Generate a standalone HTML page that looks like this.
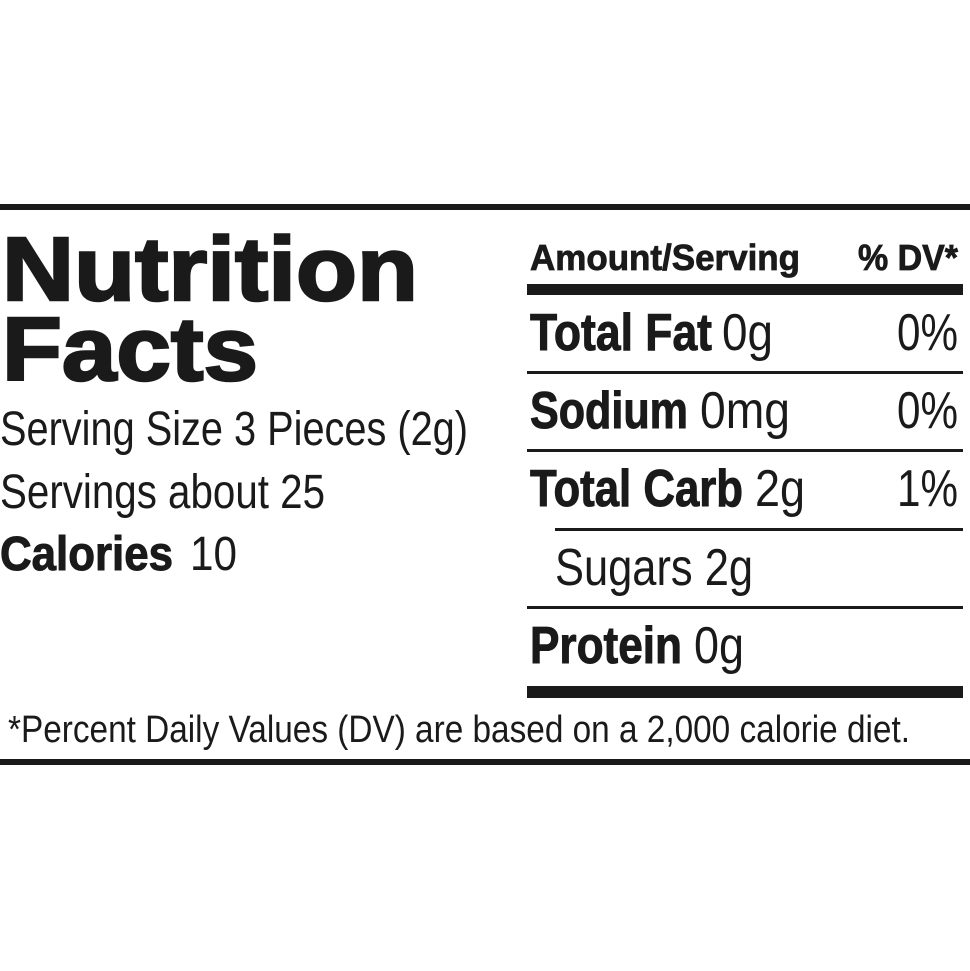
<!DOCTYPE html>
<html><head><style>html,body{margin:0;padding:0;background:#fff;}svg{display:block}</style></head>
<body>
<svg width="970" height="971" viewBox="0 0 970 971" xmlns="http://www.w3.org/2000/svg" font-family="Liberation Sans, Arial, sans-serif" fill="#1a1a1a">
<rect x="0" y="204" width="970" height="6" fill="#1a1a1a"/>
<rect x="0" y="759" width="970" height="6" fill="#1a1a1a"/>
<text x="2" y="300" font-size="90" font-weight="bold" stroke="#1a1a1a" stroke-width="2.5" textLength="416" lengthAdjust="spacingAndGlyphs">Nutrition</text>
<text x="2" y="380" font-size="90" font-weight="bold" stroke="#1a1a1a" stroke-width="2.5" textLength="256" lengthAdjust="spacingAndGlyphs">Facts</text>
<text x="0" y="445" font-size="48" textLength="468" lengthAdjust="spacingAndGlyphs">Serving Size 3 Pieces (2g)</text>
<text x="0" y="508" font-size="48" textLength="325" lengthAdjust="spacingAndGlyphs">Servings about 25</text>
<text x="0" y="570" font-size="48" font-weight="bold" stroke="#1a1a1a" stroke-width="1" textLength="173" lengthAdjust="spacingAndGlyphs">Calories</text>
<text x="190" y="570" font-size="48" textLength="47" lengthAdjust="spacingAndGlyphs">10</text>

<text x="530" y="270" font-size="36" font-weight="bold" stroke="#1a1a1a" stroke-width="0.8" textLength="270" lengthAdjust="spacingAndGlyphs">Amount/Serving</text>
<text x="858" y="270" font-size="36" font-weight="bold" stroke="#1a1a1a" stroke-width="0.8" textLength="100" lengthAdjust="spacingAndGlyphs">% DV*</text>
<rect x="527" y="284" width="436" height="11"/>

<text x="530" y="350" font-size="52" font-weight="bold" stroke="#1a1a1a" stroke-width="1" textLength="182" lengthAdjust="spacingAndGlyphs">Total Fat</text>
<text x="722" y="350" font-size="52" textLength="51" lengthAdjust="spacingAndGlyphs">0g</text>
<text x="897" y="350" font-size="52" textLength="61" lengthAdjust="spacingAndGlyphs">0%</text>
<rect x="527" y="371" width="436" height="3"/>

<text x="530" y="428" font-size="52" font-weight="bold" stroke="#1a1a1a" stroke-width="1" textLength="158" lengthAdjust="spacingAndGlyphs">Sodium</text>
<text x="700" y="428" font-size="52" textLength="90" lengthAdjust="spacingAndGlyphs">0mg</text>
<text x="897" y="428" font-size="52" textLength="61" lengthAdjust="spacingAndGlyphs">0%</text>
<rect x="527" y="449" width="436" height="3"/>

<text x="530" y="506" font-size="52" font-weight="bold" stroke="#1a1a1a" stroke-width="1" textLength="213" lengthAdjust="spacingAndGlyphs">Total Carb</text>
<text x="755" y="506" font-size="52" textLength="50" lengthAdjust="spacingAndGlyphs">2g</text>
<text x="897" y="506" font-size="52" textLength="61" lengthAdjust="spacingAndGlyphs">1%</text>
<rect x="555" y="528" width="408" height="3"/>

<text x="555" y="585" font-size="52" textLength="198" lengthAdjust="spacingAndGlyphs">Sugars 2g</text>
<rect x="527" y="606" width="436" height="3"/>

<text x="530" y="663" font-size="52" font-weight="bold" stroke="#1a1a1a" stroke-width="1" textLength="152" lengthAdjust="spacingAndGlyphs">Protein</text>
<text x="694" y="663" font-size="52" textLength="50" lengthAdjust="spacingAndGlyphs">0g</text>
<rect x="527" y="686" width="436" height="12"/>

<text x="8" y="742" font-size="38" textLength="902" lengthAdjust="spacingAndGlyphs">*Percent Daily Values (DV) are based on a 2,000 calorie diet.</text>
</svg>
</body></html>
